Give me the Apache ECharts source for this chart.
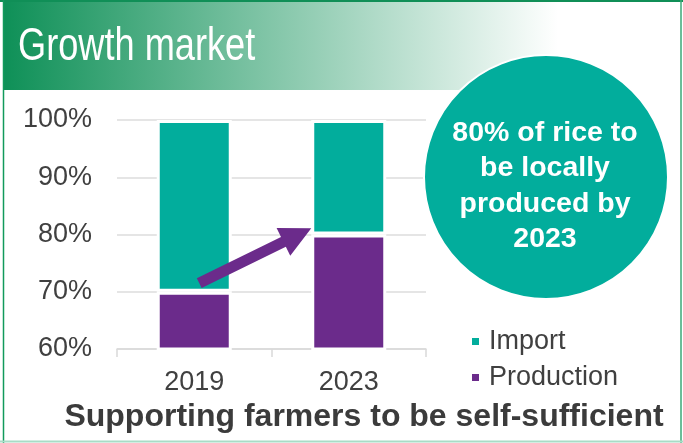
<!DOCTYPE html>
<html>
<head>
<meta charset="utf-8">
<script src="https://cdn.jsdelivr.net/npm/echarts@6/dist/echarts.min.js"></script>
<style>
  html, body { margin: 0; padding: 0; background: #fff; }
  #chart { width: 683px; height: 443px; }
</style>
</head>
<body>
<div id="chart"></div>
<script>
// Rice supply share: domestic production vs imports
const years = ['2019', '2023'];
const production = [70, 80];
const imports = [30, 20];
const yTicks = { min: 60, max: 100, interval: 10 };

const titleText = 'Growth market';
const subtitleText = 'Supporting farmers to be self-sufficient';
const calloutLines = ['80% of rice to', 'be locally', 'produced by', '2023'];

// arrow showing the rise in local production (value positions on the % axis)
const arrowTail = { year: '2019', value: 71.5 };
const arrowHead = { year: '2023', value: 81.1 };

const TEAL = '#02ad9c';
const PURPLE = '#6b2b8b';
const TEXT = '#404040';
const FONT = '"Liberation Sans", Arial, sans-serif';
const BAR_W = 75;

const chart = echarts.init(document.getElementById('chart'), null, { renderer: 'canvas' });

const decorations = [
  // header band
  { type: 'rect', shape: { x: 3, y: 2, width: 677, height: 88 },
    style: { fill: new echarts.graphic.LinearGradient(0, 0, 1, 0, [
      { offset: 0, color: '#0e9057' },
      { offset: 0.82, color: '#ffffff' },
      { offset: 1, color: '#ffffff' }
    ]) }, z: 0 },
  // frame
  { type: 'line', shape: { x1: 0, y1: 1, x2: 683, y2: 1 }, style: { stroke: '#108f57', lineWidth: 2 }, z: 5 },
  { type: 'line', shape: { x1: 3.5, y1: 0, x2: 3.5, y2: 443 }, style: { stroke: '#129a5c', lineWidth: 1.5 }, z: 5 },
  { type: 'line', shape: { x1: 681, y1: 0, x2: 681, y2: 443 }, style: { stroke: '#3aa877', lineWidth: 1.5 }, z: 5 },
  { type: 'line', shape: { x1: 0, y1: 441.5, x2: 683, y2: 441.5 }, style: { stroke: '#a8dcc6', lineWidth: 2 }, z: 5 },
  // title
  { type: 'text', x: 18, y: 47, scaleX: 0.77, z: 3,
    style: { text: titleText, fill: '#ffffff', font: '47px ' + FONT, verticalAlign: 'middle', align: 'left' } },
  // callout circle
  { type: 'circle', shape: { cx: 546, cy: 177, r: 122 },
    style: { fill: TEAL, stroke: '#ffffff', lineWidth: 2 }, z: 3 },
  { type: 'text', x: 545, y: 186, z: 4,
    style: { text: calloutLines.join('\n'), fill: '#ffffff', font: 'bold 28.5px ' + FONT,
      lineHeight: 35.5, align: 'center', verticalAlign: 'middle' } },
  // subtitle
  { type: 'text', x: 364, y: 417, z: 3,
    style: { text: subtitleText, fill: '#3b3b3b', font: 'bold 32px ' + FONT,
      align: 'center', verticalAlign: 'middle' } }
];

const option = {
  animation: false,
  backgroundColor: '#ffffff',
  grid: { left: 117, right: 257, top: 120, bottom: 94, containLabel: false },
  legend: {
    orient: 'vertical', left: 465, top: 323, itemGap: 9,
    itemWidth: 9, itemHeight: 9, icon: 'rect',
    data: ['Import', 'Production'],
    textStyle: { color: TEXT, fontSize: 27, fontFamily: FONT, padding: [0, 0, 0, 4] }
  },
  xAxis: {
    type: 'category', data: years,
    axisLine: { lineStyle: { color: '#d9d9d9', width: 1.5 } },
    axisTick: { show: true, length: 8, lineStyle: { color: '#d9d9d9', width: 1.5 } },
    axisLabel: { color: TEXT, fontSize: 27, fontFamily: FONT, margin: 20 }
  },
  yAxis: {
    type: 'value', min: yTicks.min, max: yTicks.max, interval: yTicks.interval,
    axisLine: { show: false }, axisTick: { show: false },
    splitLine: { lineStyle: { color: '#dcdcdc', width: 1.5 } },
    axisLabel: { color: TEXT, fontSize: 27, fontFamily: FONT, margin: 25, formatter: '{value}%' }
  },
  series: [
    { name: 'Production', type: 'bar', stack: 'share', data: production, barWidth: BAR_W,
      itemStyle: { color: PURPLE, borderColor: '#ffffff', borderWidth: 3 }, z: 2 },
    { name: 'Import', type: 'bar', stack: 'share', data: imports, barWidth: BAR_W,
      itemStyle: { color: TEAL, borderColor: '#ffffff', borderWidth: 3 }, z: 2 }
  ],
  graphic: decorations
};

chart.setOption(option);

// Arrow from the 2019 production level up to the edge of the 2023 bar
const p0 = chart.convertToPixel({ gridIndex: 0 }, [arrowTail.year, arrowTail.value]);
const p1 = chart.convertToPixel({ gridIndex: 0 }, [arrowHead.year, arrowHead.value]);
const tail = [p0[0] + 5, p0[1]];
const tip = [p1[0] - BAR_W / 2, p1[1]];
const dx = tip[0] - tail[0], dy = tip[1] - tail[1];
const len = Math.sqrt(dx * dx + dy * dy);
const ux = dx / len, uy = dy / len;
const nx = -uy, ny = ux;
const shaftHalf = 5.5, headLen = 31, headHalf = 15.5;
const bx = tip[0] - ux * headLen, by = tip[1] - uy * headLen;
const arrowPts = [
  [tail[0] + nx * shaftHalf, tail[1] + ny * shaftHalf],
  [bx + nx * shaftHalf, by + ny * shaftHalf],
  [bx + nx * headHalf, by + ny * headHalf],
  tip,
  [bx - nx * headHalf, by - ny * headHalf],
  [bx - nx * shaftHalf, by - ny * shaftHalf],
  [tail[0] - nx * shaftHalf, tail[1] - ny * shaftHalf]
];

chart.setOption({
  graphic: decorations.concat([
    { type: 'polygon', shape: { points: arrowPts }, style: { fill: PURPLE }, z: 10 }
  ])
});
</script>
</body>
</html>
